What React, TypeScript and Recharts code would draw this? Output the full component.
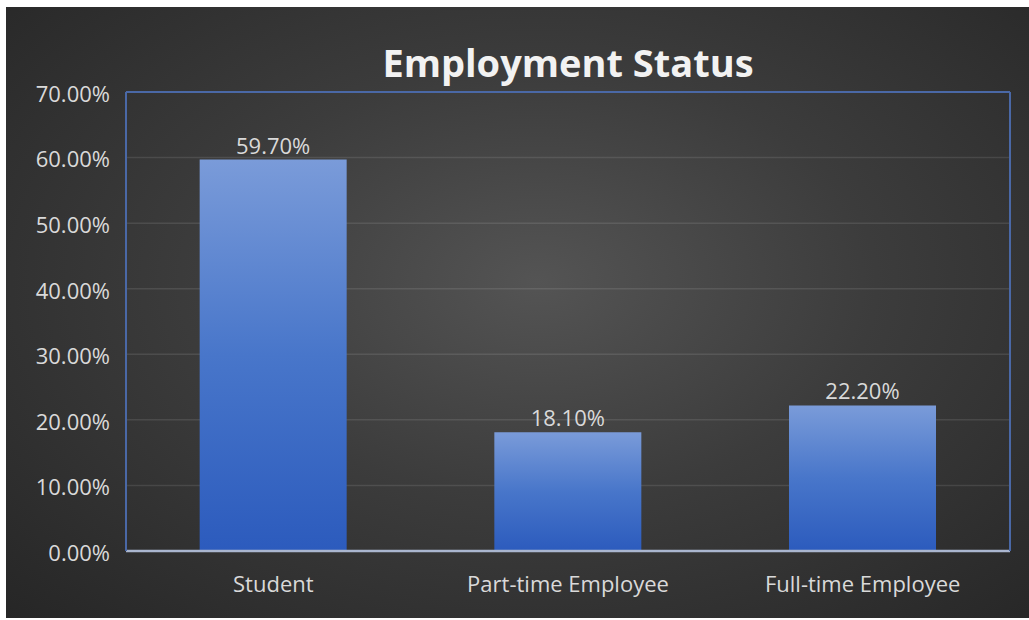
import { BarChart, Bar, XAxis, YAxis, CartesianGrid, LabelList, ReferenceLine } from "recharts";

// Employment status — percentage of respondents
const categories = ["Student", "Part-time Employee", "Full-time Employee"];
const shares = [59.7, 18.1, 22.2];
const yTicks = [0, 10, 20, 30, 40, 50, 60, 70];

const data = categories.map((name, i) => ({ name, share: shares[i] }));

const pct = (v: number) => `${Number(v).toFixed(2)}%`;

const FONT = "'Open Sans', 'Noto Sans', sans-serif";
const TEXT = "#d9d9d9";
const FRAME = "#4a68a6";

export default function App() {
  return (
    <div style={{ position: "relative", width: 1029, height: 620, background: "#fff", fontFamily: FONT }}>
      <style>{"body{margin:0}"}</style>

      {/* dark panel */}
      <div
        style={{
          position: "absolute",
          left: 6,
          top: 7,
          width: 1023,
          height: 611,
          background: "radial-gradient(ellipse at 52% 45%, #545454 0%, #3c3c3c 45%, #262626 100%)",
        }}
      />

      <div
        style={{
          position: "absolute",
          left: 126,
          top: 43,
          width: 884,
          textAlign: "center",
          fontSize: 38,
          lineHeight: "38px",
          fontWeight: 700,
          color: "#f2f2f2",
        }}
      >
        Employment Status
      </div>

      <div style={{ position: "absolute", left: 0, top: 0 }}>
        <BarChart
          width={1029}
          height={620}
          data={data}
          margin={{ top: 92, right: 0, bottom: 0, left: 0 }}
          barCategoryGap="25%"
        >
          <defs>
            <linearGradient id="barFill" x1="0" y1="0" x2="0" y2="1">
              <stop offset="0%" stopColor="#7a9bd9" />
              <stop offset="50%" stopColor="#4876ca" />
              <stop offset="100%" stopColor="#2c5bbd" />
            </linearGradient>
          </defs>

          <CartesianGrid vertical={false} stroke="rgba(255,255,255,0.1)" strokeWidth={1.5} yAxisId="l" />

          <XAxis
            dataKey="name"
            height={69}
            tickLine={false}
            tickSize={23}
            axisLine={{ stroke: "#aab6cf", strokeWidth: 2.5 }}
            tick={{ fill: TEXT, fontSize: 22, fontFamily: FONT }}
            interval={0}
          />
          <YAxis
            yAxisId="l"
            width={126}
            domain={[0, 70]}
            ticks={yTicks}
            tickFormatter={pct}
            tickLine={false}
            tickSize={8}
            tickMargin={8}
            axisLine={{ stroke: FRAME, strokeWidth: 2 }}
            tick={{ fill: TEXT, fontSize: 22, fontFamily: FONT, dy: 2 }}
          />
          <YAxis
            yAxisId="r"
            orientation="right"
            width={19}
            domain={[0, 70]}
            tick={false}
            tickLine={false}
            axisLine={{ stroke: FRAME, strokeWidth: 2 }}
          />

          <ReferenceLine yAxisId="l" y={70} stroke={FRAME} strokeWidth={2} />

          <Bar yAxisId="l" dataKey="share" fill="url(#barFill)" isAnimationActive={false}>
            <LabelList
              dataKey="share"
              position="top"
              offset={6}
              formatter={(v: any) => pct(v)}
              fill={TEXT}
              fontSize={22}
              fontFamily={FONT}
            />
          </Bar>
        </BarChart>
      </div>
    </div>
  );
}
